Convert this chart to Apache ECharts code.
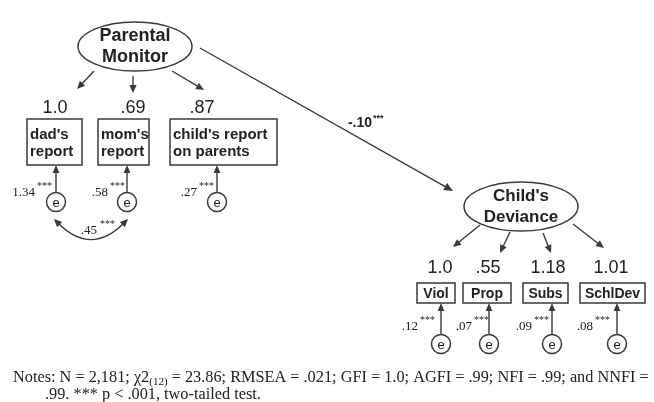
<!DOCTYPE html>
<html><head><meta charset="utf-8">
<script src="https://cdn.jsdelivr.net/npm/echarts@6/dist/echarts.min.js"></script>
<style>html,body{margin:0;padding:0;background:#fff}#c{width:654px;height:402px}</style>
</head><body><div id="c"></div>
<script>
// ---------------- data ----------------
const latentNames = ['Parental\nMonitor', "Child's\nDeviance"];
const pmIndicators = ["dad's\nreport", "mom's\nreport", "child's report\non parents"];
const pmLoadings = ['1.0', '.69', '.87'];
const pmErrorVars = ['1.34', '.58', '.27'];
const cdIndicators = ['Viol', 'Prop', 'Subs', 'SchlDev'];
const cdLoadings = ['1.0', '.55', '1.18', '1.01'];
const cdErrorVars = ['.12', '.07', '.09', '.08'];
const pathCoef = '-.10';
const errorCov = '.45';
const sigMark = '***';
const errorName = 'e';
const notesParts = ['Notes: N = 2,181; \u03c72', '(12)', ' = 23.86; RMSEA = .021; GFI = 1.0; AGFI = .99; NFI = .99; and NNFI ='];
const notesLine2 = '.99. *** p < .001, two-tailed test.';

// ---------------- layout (positions in the hidden axes' units) ----------------
const latentPos = [[135, 46.5], [521, 206.5]];
const latentR = [57, 24.5];
const latentFont = [18, 17];
const pmBoxes = [[27, 119, 55, 46], [98, 119, 51, 46], [170, 119, 107, 46]];
const pmLoadPos = [[55, 108], [133, 108], [202, 108]];
const pmArrows = [[94, 71, 77, 89], [133, 76, 133, 93], [172, 71, 204, 90]];
const pmErrX = [56, 127, 217];
const pmErrY = 202, pmBoxBottom = 165;
const pmErrLabelRight = [35, 108, 197];
const cdBoxes = [[417, 283, 38, 20], [463, 283, 48, 20], [523, 283, 45, 20], [580, 283, 65, 20]];
const cdLoadPos = [[440, 268], [488, 268], [548, 268], [611, 268]];
const cdArrows = [[480, 225, 453, 247], [510, 232, 500, 253], [543, 233, 551, 253], [573, 224, 604, 248]];
const cdErrX = [441, 489, 552, 617];
const cdErrY = 344, cdBoxBottom = 303;
const cdErrLabelRight = [418, 472, 532, 593];
const errR = 9.5;
const pathLine = [200, 48, 453, 191];
const pathLabelRight = [372, 123];
const covCurve = [54, 219, 91, 256, 128, 219];
const covLabelRight = [97, 231];
const notesPos = [[13, 378], [45, 395]];

const INK = '#222', LINE = '#3a3a3a';
const SANS = '"Liberation Sans", Arial, sans-serif';
const SERIF = '"Liberation Serif", "Times New Roman", serif';

const mctx = document.createElement('canvas').getContext('2d');
function measure(t, font) { mctx.font = font; return mctx.measureText(t).width; }

function txt(t, x, y, font, align, vAlign, extra) {
  return { type: 'text', style: Object.assign({ text: t, x: x, y: y, font: font, fill: INK,
    align: align || 'center', verticalAlign: vAlign || 'middle',
    textAlign: align || 'center', textVerticalAlign: vAlign || 'middle' }, extra || {}) };
}
function arrowEls(x1, y1, x2, y2, hl, hw) {
  hl = hl || 8; hw = hw || 3.6;
  const dx = x2 - x1, dy = y2 - y1, L = Math.sqrt(dx * dx + dy * dy);
  const ux = dx / L, uy = dy / L, bx = x2 - ux * hl, by = y2 - uy * hl;
  return [
    { type: 'line', shape: { x1: x1, y1: y1, x2: bx + ux * 1, y2: by + uy * 1 }, style: { stroke: LINE, lineWidth: 1.4 } },
    { type: 'polygon', shape: { points: [[x2, y2], [bx - uy * hw, by + ux * hw], [bx + uy * hw, by - ux * hw]] }, style: { fill: LINE } }
  ];
}
function stars(x, y, size) {
  return txt(sigMark, x, y, (size || 10) + 'px ' + SERIF, 'left', 'middle');
}

function renderAll(params, api) {
  const C = (x, y) => api.coord([x, y]);
  const S = (w, h) => api.size([w, h]);
  const els = [];
  // latent variables
  latentNames.forEach((n, i) => {
    const p = C(latentPos[i][0], latentPos[i][1]);
    const r = S(latentR[0], latentR[1]);
    els.push({ type: 'ellipse', shape: { cx: p[0], cy: p[1], rx: r[0], ry: r[1] }, style: { fill: '#fff', stroke: LINE, lineWidth: 1.5 } });
    els.push(txt(n, p[0], p[1], 'bold ' + latentFont[i] + 'px ' + SANS, 'center', 'middle', { lineHeight: 21 }));
  });
  // structural path
  {
    const a = C(pathLine[0], pathLine[1]), b = C(pathLine[2], pathLine[3]);
    arrowEls(a[0], a[1], b[0], b[1], 9, 4).forEach(e => els.push(e));
    const l = C(pathLabelRight[0], pathLabelRight[1]);
    els.push(txt(pathCoef, l[0], l[1], 'bold 14px ' + SANS, 'right', 'middle'));
    els.push(txt(sigMark, l[0] + 1, l[1] - 4, 'bold 9px ' + SANS, 'left', 'middle'));
  }
  // measurement parts
  function block(names, loads, errs, boxes, loadPos, arrows, errX, errY, boxBottom, labRight, multi) {
    names.forEach((n, i) => {
      const a = C(arrows[i][0], arrows[i][1]), b = C(arrows[i][2], arrows[i][3]);
      arrowEls(a[0], a[1], b[0], b[1], 8, 3.6).forEach(e => els.push(e));
      const lp = C(loadPos[i][0], loadPos[i][1]);
      els.push(txt(loads[i], lp[0], lp[1], '18px ' + SANS, 'center', 'middle'));
      const bx = boxes[i];
      const tl = C(bx[0], bx[1]), sz = S(bx[2], bx[3]);
      els.push({ type: 'rect', shape: { x: tl[0], y: tl[1], width: sz[0], height: sz[1] }, style: { fill: '#fff', stroke: LINE, lineWidth: 1.5 } });
      if (multi) els.push(txt(n, tl[0] + 3, tl[1] + sz[1] / 2 + 1, 'bold 15px ' + SANS, 'left', 'middle', { lineHeight: 17 }));
      else els.push(txt(n, tl[0] + sz[0] / 2, tl[1] + sz[1] / 2 + 1, 'bold 14px ' + SANS, 'center', 'middle'));
      const ec = C(errX[i], errY), er = S(errR, errR);
      const bb = C(errX[i], boxBottom);
      arrowEls(ec[0], ec[1] - er[1], bb[0], bb[1], 8, 3.4).forEach(e => els.push(e));
      els.push({ type: 'circle', shape: { cx: ec[0], cy: ec[1], r: er[0] }, style: { fill: '#fff', stroke: LINE, lineWidth: 1.5 } });
      els.push(txt(errorName, ec[0], ec[1] + 1, '13px ' + SANS, 'center', 'middle'));
      const lr = C(labRight[i], errY - (multi ? 9 : 17));
      els.push(txt(errs[i], lr[0], lr[1], '13px ' + SERIF, 'right', 'middle'));
      els.push(stars(lr[0] + 2, lr[1] - 7, 10));
    });
  }
  block(pmIndicators, pmLoadings, pmErrorVars, pmBoxes, pmLoadPos, pmArrows, pmErrX, pmErrY, pmBoxBottom, pmErrLabelRight, true);
  block(cdIndicators, cdLoadings, cdErrorVars, cdBoxes, cdLoadPos, cdArrows, cdErrX, cdErrY, cdBoxBottom, cdErrLabelRight, false);
  // error covariance (double-headed curved arrow)
  {
    const p1 = C(covCurve[0], covCurve[1]), cp = C(covCurve[2], covCurve[3]), p2 = C(covCurve[4], covCurve[5]);
    const hl = 8, hw = 3.6;
    function unit(p, q) { const dx = p[0] - q[0], dy = p[1] - q[1], L = Math.hypot(dx, dy); return [dx / L, dy / L]; }
    const u1 = unit(p1, cp), u2 = unit(p2, cp);
    els.push({ type: 'bezierCurve', shape: { x1: p1[0] - u1[0] * 6, y1: p1[1] - u1[1] * 6, x2: p2[0] - u2[0] * 6, y2: p2[1] - u2[1] * 6, cpx1: cp[0], cpy1: cp[1] }, style: { stroke: LINE, lineWidth: 1.4, fill: null } });
    [[p1, u1], [p2, u2]].forEach(([p, u]) => {
      const bx = p[0] - u[0] * hl, by = p[1] - u[1] * hl;
      els.push({ type: 'polygon', shape: { points: [[p[0], p[1]], [bx - u[1] * hw, by + u[0] * hw], [bx + u[1] * hw, by - u[0] * hw]] }, style: { fill: LINE } });
    });
    const l = C(covLabelRight[0], covLabelRight[1]);
    els.push(txt(errorCov, l[0], l[1], '13px ' + SERIF, 'right', 'middle'));
    els.push(stars(l[0] + 3, l[1] - 7, 10));
  }
  // notes
  {
    const f = '16.3px ' + SERIF, fs = '11px ' + SERIF;
    const p = C(notesPos[0][0], notesPos[0][1]);
    let x = p[0];
    els.push(txt(notesParts[0], x, p[1], f, 'left', 'middle')); x += measure(notesParts[0], f);
    els.push(txt(notesParts[1], x, p[1] + 4, fs, 'left', 'middle')); x += measure(notesParts[1], fs);
    els.push(txt(notesParts[2], x, p[1], f, 'left', 'middle'));
    const q = C(notesPos[1][0], notesPos[1][1]);
    els.push(txt(notesLine2, q[0], q[1], f, 'left', 'middle'));
  }
  return { type: 'group', children: els };
}

const chart = echarts.init(document.getElementById('c'), null, { renderer: 'canvas' });
chart.setOption({
  backgroundColor: '#fff',
  animation: false,
  grid: { left: 0, right: 0, top: 0, bottom: 0 },
  xAxis: { type: 'value', min: 0, max: 654, show: false },
  yAxis: { type: 'value', min: 0, max: 402, inverse: true, show: false },
  series: [{ type: 'custom', coordinateSystem: 'cartesian2d', data: [[0, 0]], renderItem: renderAll, silent: true, clip: false }]
});
</script></body></html>
